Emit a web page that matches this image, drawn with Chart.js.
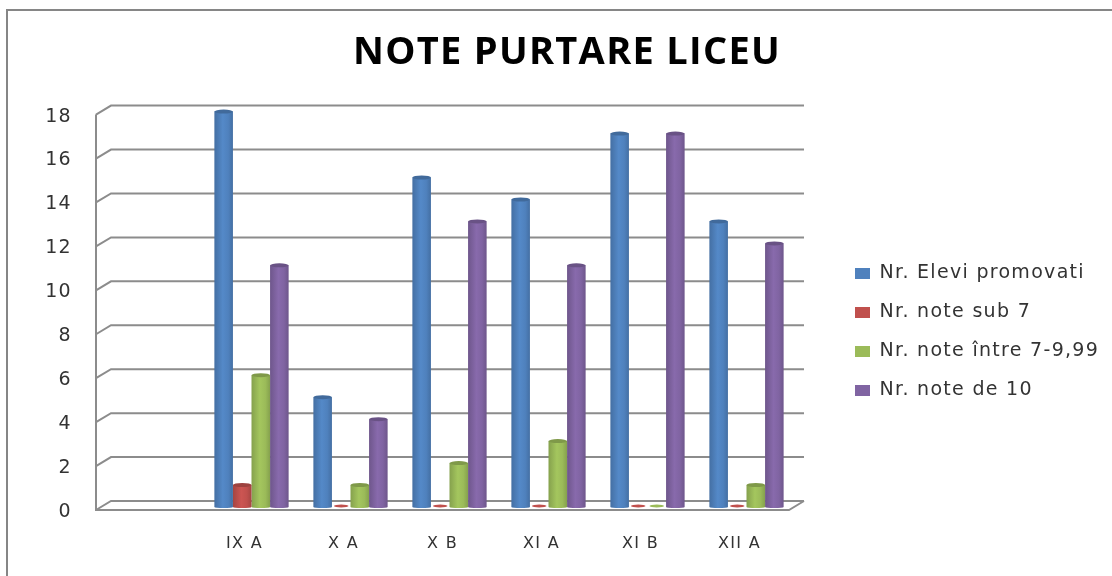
<!DOCTYPE html>
<html lang="ro">
<head>
    <meta charset="UTF-8">
    <title>NOTE PURTARE LICEU</title>
    <script src="https://cdn.jsdelivr.net/npm/chart.js"></script>
    <style>
        html, body { margin: 0; padding: 0; background: #fff; overflow: hidden; }
        #frame { position: absolute; left: 6px; top: 9px; right: 0; bottom: 0; border-left: 2px solid #868686; border-top: 2px solid #868686; }
        canvas { position: absolute; left: 0; top: 0; }
    </style>
</head>
<body>
<div id="frame"></div>
<canvas id="chart" width="1112" height="576"></canvas>

<script>
    const categories = ['', 'IX A', 'X A', 'X B', 'XI A', 'XI B', 'XII A'];
    const promovati = [null, 18, 5, 15, 14, 17, 13];
    const sub7 = [null, 1, 0, 0, 0, 0, 0];
    const intre7si10 = [null, 6, 1, 2, 3, 0, 1];
    const note10 = [null, 11, 4, 13, 11, 17, 12];

    const GRID = '#8c8c8c';
    const DEPTH_X = 15, DEPTH_Y = 9; // wall offset of the fake 3d box

    function shade(hex, k) {
        const n = parseInt(hex.slice(1), 16);
        const c = [n >> 16, (n >> 8) & 255, n & 255].map(v => Math.min(255, Math.round(v * k)));
        return `rgb(${c[0]},${c[1]},${c[2]})`;
    }

    // the original text is stretched sideways, a bit of spacing gets the same widths
    const spacingPlugin = {
        id: 'spacing',
        beforeLayout(chart) { chart.ctx.letterSpacing = '1.3px'; },
        beforeDraw(chart) { chart.ctx.letterSpacing = '1.3px'; }
    };

    // back wall, side wall and floor, taken from the y scale ticks
    const wallsPlugin = {
        id: 'walls',
        beforeDatasetsDraw(chart) {
            const { ctx, chartArea: a, scales: { y } } = chart;
            ctx.save();
            ctx.strokeStyle = GRID;
            ctx.lineWidth = 2;
            ctx.beginPath();
            y.ticks.forEach(t => {
                const py = y.getPixelForValue(t.value);
                ctx.moveTo(a.left, py);
                ctx.lineTo(a.left + DEPTH_X, py - DEPTH_Y);
                ctx.lineTo(a.right + DEPTH_X, py - DEPTH_Y);
            });
            ctx.moveTo(a.left, a.top);
            ctx.lineTo(a.left, a.bottom);
            ctx.lineTo(a.right, a.bottom);
            ctx.lineTo(a.right + DEPTH_X, a.bottom - DEPTH_Y);
            ctx.stroke();
            ctx.restore();
        }
    };

    // cylinders in place of the flat bars
    const cylinderPlugin = {
        id: 'cylinders',
        beforeDatasetDraw(chart, args) {
            const { ctx } = chart;
            const dataset = args.meta.controller.getDataset();
            const color = dataset.backgroundColor;
            ctx.save();
            ctx.translate(7, -3);
            args.meta.data.forEach((bar, i) => {
                if (dataset.data[i] === null) return;
                const l = bar.x - bar.width / 2, r = bar.x + bar.width / 2;
                const rx = bar.width / 2, ry = 2;
                if (dataset.data[i] === 0) {
                    ctx.fillStyle = color;
                    ctx.beginPath();
                    ctx.ellipse(bar.x, bar.base - 1, rx - 2, 1.5, 0, 0, Math.PI * 2);
                    ctx.fill();
                    return;
                }
                const g = ctx.createLinearGradient(l, 0, r, 0);
                g.addColorStop(0, shade(color, 0.86));
                g.addColorStop(0.45, shade(color, 1.06));
                g.addColorStop(0.75, color);
                g.addColorStop(1, shade(color, 0.86));
                ctx.fillStyle = g;
                ctx.beginPath();
                ctx.moveTo(l, bar.y);
                ctx.lineTo(l, bar.base);
                ctx.ellipse(bar.x, bar.base, rx, 1, 0, Math.PI, 0, true);
                ctx.lineTo(r, bar.y);
                ctx.closePath();
                ctx.fill();
                ctx.fillStyle = shade(color, 0.82);
                ctx.beginPath();
                ctx.ellipse(bar.x, bar.y, rx, ry, 0, 0, Math.PI * 2);
                ctx.fill();
            });
            ctx.restore();
            return false;
        }
    };

    // nudge title and legend to where the original has them
    const placementPlugin = {
        id: 'placement',
        afterLayout(chart) {
            const t = chart.titleBlock, l = chart.legend;
            t.left += 41;
            t.right += 41;
            const w = l.right - l.left;
            l.left = 835;
            l.right = l.left + w;
            l.top += 29;
            l.bottom += 29;
        }
    };

    new Chart(document.getElementById('chart'), {
        type: 'bar',
        data: {
            labels: categories,
            datasets: [
                { label: 'Nr. Elevi promovati', data: promovati, backgroundColor: '#4F81BD' },
                { label: 'Nr. note sub 7', data: sub7, backgroundColor: '#C0504D' },
                { label: 'Nr. note între 7-9,99', data: intre7si10, backgroundColor: '#9BBB59' },
                { label: 'Nr. note de 10', data: note10, backgroundColor: '#8064A2' }
            ]
        },
        plugins: [spacingPlugin, wallsPlugin, cylinderPlugin, placementPlugin],
        options: {
            responsive: false,
            animation: false,
            layout: { padding: { top: 30, right: 60, left: 0, bottom: 0 } },
            datasets: { bar: { barPercentage: 1, categoryPercentage: 0.75 } },
            scales: {
                x: {
                    grid: { display: false },
                    border: { display: false },
                    ticks: { color: '#333', padding: 16, maxRotation: 0, font: { family: 'DejaVu Sans', size: 16 } },
                    afterFit(scale) { scale.height = 66; }
                },
                y: {
                    min: 0,
                    max: 18,
                    grid: { display: false },
                    border: { display: false },
                    ticks: { stepSize: 2, color: '#333', padding: 16, labelOffset: 2, font: { family: 'DejaVu Sans', size: 19 } },
                    afterFit(scale) { scale.width = 96; }
                }
            },
            plugins: {
                title: {
                    display: true,
                    text: 'NOTE PURTARE LICEU',
                    color: '#000',
                    font: { family: 'Open Sans', size: 38, weight: 'bold' },
                    padding: { top: 0, bottom: 39 }
                },
                legend: {
                    position: 'right',
                    labels: {
                        boxWidth: 15,
                        boxHeight: 11,
                        padding: 20,
                        color: '#333',
                        font: { family: 'DejaVu Sans', size: 19 }
                    }
                },
                tooltip: { enabled: false }
            }
        }
    });
</script>
</body>
</html>
